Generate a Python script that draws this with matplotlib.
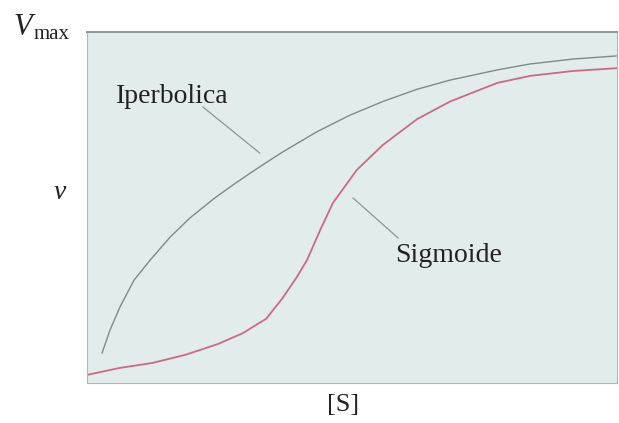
import matplotlib.pyplot as plt

# curve readings, [S] (x) and v (y) on a 0-100 scale
iperb_s = [2.83, 4.34, 6.23, 8.87, 11.9, 15.7, 19.4, 24.0, 27.7, 30.8, 33.4,
           37.0, 43.4, 49.6, 55.8, 62.3, 68.5, 77.4, 83.6, 91.7, 100]
iperb_v = [8.55, 15.1, 21.7, 29.3, 35.0, 41.6, 47.0, 52.6, 56.6, 59.8, 62.4,
           65.9, 71.6, 76.3, 80.2, 83.7, 86.3, 89.2, 90.9, 92.3, 93.2]

sigm_s = [0, 6.2, 12.3, 18.5, 24.7, 29.4, 33.8, 36.8, 39.6, 41.5, 44.0, 46.4,
          50.9, 55.8, 62.3, 68.5, 77.4, 83.6, 91.7, 100]
sigm_v = [2.3, 4.3, 5.7, 8.0, 11.1, 14.2, 18.3, 24.0, 30.2, 35.0, 43.6, 51.3,
          60.7, 67.8, 75.2, 80.2, 85.5, 87.5, 88.9, 89.7]

labels = ["Iperbolica", "Sigmoide"]
label_xy = [(16.0, 81.5), (68.3, 36.2)]        # axes %
leader_from = [(21.9, 78.6), (58.7, 41.3)]
leader_to = [(32.6, 65.5), (50.2, 52.7)]

serif = "Liberation Serif"

fig = plt.figure(figsize=(6.19, 4.23), dpi=100)
ax = fig.add_axes([0.1406, 0.0946, 0.8562, 0.8297])
ax.set_facecolor("#e2eceb")

ax.plot(iperb_s, iperb_v, color="#7d8d86", lw=1.0, solid_joinstyle="round")
ax.plot(sigm_s, sigm_v, color="#cc6a85", lw=1.3, solid_joinstyle="round")

for lab, (tx, ty), p0, p1 in zip(labels, label_xy, leader_from, leader_to):
    ax.text(tx, ty, lab, fontsize=20, family=serif, color="#222222",
            ha="center", va="center")
    ax.plot([p0[0], p1[0]], [p0[1], p1[1]], color="#8c9692", lw=0.9)

ax.set_xlim(0, 100)
ax.set_ylim(0, 100)
ax.set_xticks([])
ax.set_yticks([])
for side in ["left", "right", "bottom"]:
    ax.spines[side].set_color("#a9bcbb")
ax.spines["top"].set_color("#8e9897")
ax.spines["top"].set_linewidth(1.4)

fig.text(0.037, 0.934, "V", fontsize=22, family=serif, style="italic",
         ha="center", va="center", color="#222222")
fig.text(0.084, 0.919, "max", fontsize=15, family=serif,
         ha="center", va="center", color="#222222")
fig.text(0.097, 0.546, "v", fontsize=20, family=serif, style="italic",
         ha="center", va="center", color="#222222")
fig.text(0.554, 0.043, "[S]", fontsize=19, family=serif,
         ha="center", va="center", color="#222222")

fig.savefig("out.png", dpi=100)
